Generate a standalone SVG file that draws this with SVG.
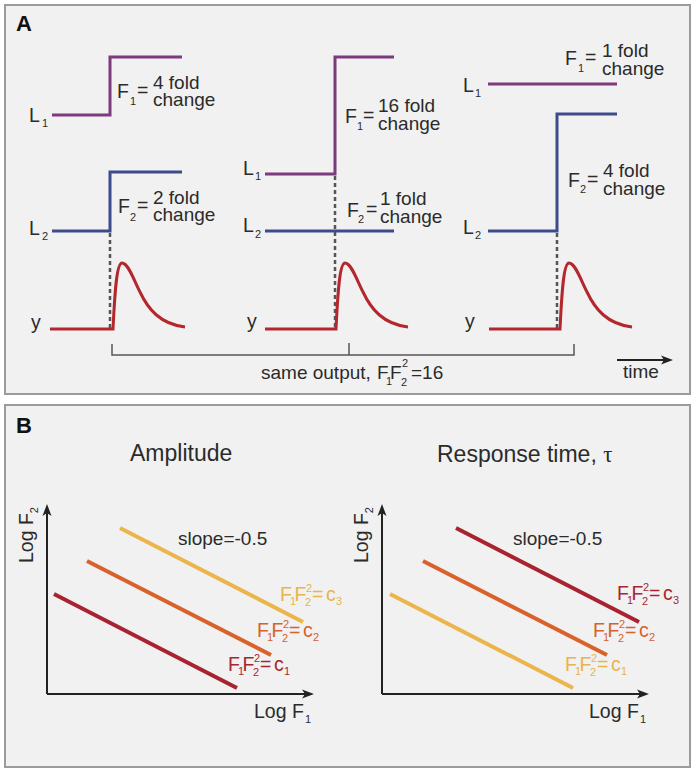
<svg xmlns="http://www.w3.org/2000/svg" width="696" height="773" viewBox="0 0 696 773">
<style>
text{font-family:"Liberation Sans",Arial,Helvetica,sans-serif;fill:#2b2b2b}
.b{font-weight:bold;font-size:22px;fill:#111}
.t{font-size:19px}
.f{font-size:19.5px}
.s{font-size:11px}
.h{font-size:23px}
.panel{fill:#f1f1f1;stroke:#9b9b9b;stroke-width:2}
.l1{stroke:#7b3b7c;stroke-width:3;fill:none}
.l2{stroke:#3d4a8b;stroke-width:3;fill:none}
.yc{stroke:#b3272d;stroke-width:3;fill:none}
.dash{stroke:#555;stroke-width:2.5;stroke-dasharray:4 3;fill:none}
.ax{stroke:#222;stroke-width:2;fill:none}
.ah{fill:#222}
.br{stroke:#555;stroke-width:1.5;fill:none}
.cl{stroke-width:4;fill:none}
.red{stroke:#a8232f}
.org{stroke:#d8622a}
.yel{stroke:#ebb54b}
.tr{fill:#a8262f}
.to{fill:#d5622a}
.ty{fill:#e8b44c}
</style>
<rect width="696" height="773" fill="#fff"/>
<g id="panelA">
<rect class="panel" x="5" y="5" width="685" height="389"/>
<text class="b" x="16" y="31">A</text>
</g>
<g id="panelB">
<rect class="panel" x="5" y="405" width="685" height="362"/>
<text class="b" x="16" y="433">B</text>
</g>

<g id="colA1">
<path class="l1" d="M52,115 H110 V57 H182"/>
<text class="f" x="29" y="122">L</text><text class="s" x="42" y="127">1</text>
<text class="f" x="117" y="98">F</text><text class="s" x="130" y="105">1</text><text class="f" x="137" y="97">=</text>
<text class="t" x="153" y="89">4 fold</text><text class="t" x="153" y="106">change</text>
<path class="l2" d="M52,231 H110 V172 H182"/>
<text class="f" x="29" y="235">L</text><text class="s" x="42" y="240">2</text>
<text class="f" x="118" y="213">F</text><text class="s" x="130" y="221">2</text><text class="f" x="137" y="212">=</text>
<text class="t" x="153" y="204">2 fold</text><text class="t" x="153" y="221">change</text>
<path class="dash" d="M110,233 V328"/>
<path class="yc" d="M50,329 H113 C114.5,300 116,263 122,263 C128,263 133,278 140,292 C148,309 160,324 185,327"/>
<text class="f" x="31" y="329">y</text>
</g>

<g id="colA2">
<path class="l1" d="M265,174 H335 V57 H394"/>
<text class="f" x="243" y="175">L</text><text class="s" x="255" y="180">1</text>
<text class="f" x="345" y="123">F</text><text class="s" x="357" y="130">1</text><text class="f" x="363" y="122">=</text>
<text class="t" x="378" y="112">16 fold</text><text class="t" x="378" y="130">change</text>
<path class="l2" d="M265,231 H394"/>
<text class="f" x="243" y="232">L</text><text class="s" x="255" y="238">2</text>
<text class="f" x="347" y="217">F</text><text class="s" x="358" y="223">2</text><text class="f" x="366" y="216">=</text>
<text class="t" x="380" y="205">1 fold</text><text class="t" x="380" y="223">change</text>
<path class="dash" d="M335,176 V328"/>
<path class="yc" d="M265,329 H336 C337.5,300 339,263 345,263 C351,263 356,278 363,292 C371,309 383,324 408,327"/>
<text class="f" x="247" y="328">y</text>
</g>

<g id="colA3">
<path class="l1" d="M488,84 H617"/>
<text class="f" x="463" y="92">L</text><text class="s" x="475" y="97">1</text>
<text class="f" x="565" y="65">F</text><text class="s" x="578" y="72">1</text><text class="f" x="585" y="64">=</text>
<text class="t" x="602" y="57">1 fold</text><text class="t" x="602" y="75">change</text>
<path class="l2" d="M488,231 H557 V114 H617"/>
<text class="f" x="463" y="234">L</text><text class="s" x="475" y="239">2</text>
<text class="f" x="568" y="187">F</text><text class="s" x="580" y="193">2</text><text class="f" x="587" y="186">=</text>
<text class="t" x="603" y="177">4 fold</text><text class="t" x="603" y="195">change</text>
<path class="dash" d="M557,233 V328"/>
<path class="yc" d="M489,329 H560 C561.5,300 563,263 569,263 C575,263 580,278 587,292 C595,309 607,324 632,327"/>
<text class="f" x="465" y="328">y</text>
</g>

<g id="outputBracket">
<path class="br" d="M112,344 V355 H574 V344 M349,355 V343"/>
<text class="t" x="261" y="379">same output,</text>
<text class="t" x="377" y="379">F</text><text class="s" x="386" y="385">1</text>
<text class="t" x="390" y="379">F</text><text class="s" x="401" y="386">2</text><text class="s" x="402" y="367">2</text>
<text class="t" x="411" y="379">=16</text>
</g>

<g id="timeArrow">
<path class="ax" d="M617,360 H664"/>
<polygon class="ah" points="673,360 661,355.5 664,360 661,364.5"/>
<text class="t" x="623" y="378">time</text>
</g>

<g id="plotAmplitude">
<text class="h" x="130" y="461">Amplitude</text>
<path class="ax" d="M47,694 V512 M47,694 H306"/>
<polygon class="ah" points="47,504 42.5,516 47,513 51.5,516"/>
<polygon class="ah" points="314,694 302,689.5 305,694 302,698.5"/>
<text class="f" transform="translate(33,563) rotate(-90)">Log F<tspan class="s" dy="5">2</tspan></text>
<text class="f" x="254" y="718">Log F</text><text class="s" x="305" y="723">1</text>
<text class="t" x="178" y="545">slope=-0.5</text>
<path class="cl yel" d="M120,528 L303,622"/>
<path class="cl org" d="M87,561 L271,655"/>
<path class="cl red" d="M54,594 L237,688"/>
<text class="f ty"><tspan x="280" y="601">F</tspan><tspan class="s" x="290" y="605">1</tspan><tspan x="294.5" y="601">F</tspan><tspan class="s" x="305" y="606">2</tspan><tspan class="s" x="306" y="592">2</tspan><tspan x="312" y="601">=</tspan><tspan x="326" y="601">c</tspan><tspan class="s" x="336" y="605">3</tspan></text>
<text class="f to"><tspan x="257" y="637">F</tspan><tspan class="s" x="267" y="641">1</tspan><tspan x="271.5" y="637">F</tspan><tspan class="s" x="282" y="642">2</tspan><tspan class="s" x="283" y="628">2</tspan><tspan x="289" y="637">=</tspan><tspan x="303" y="637">c</tspan><tspan class="s" x="313" y="641">2</tspan></text>
<text class="f tr"><tspan x="228" y="671">F</tspan><tspan class="s" x="238" y="675">1</tspan><tspan x="242.5" y="671">F</tspan><tspan class="s" x="253" y="676">2</tspan><tspan class="s" x="254" y="662">2</tspan><tspan x="260" y="671">=</tspan><tspan x="274" y="671">c</tspan><tspan class="s" x="284" y="675">1</tspan></text>
</g>

<g id="plotResponseTime">
<text class="h" x="437" y="462">Response time, <tspan style="font-family:'Liberation Serif','Times New Roman',serif">τ</tspan></text>
<path class="ax" d="M382,694 V512 M382,694 H641"/>
<polygon class="ah" points="382,504 377.5,516 382,513 386.5,516"/>
<polygon class="ah" points="649,694 637,689.5 640,694 637,698.5"/>
<text class="f" transform="translate(368,563) rotate(-90)">Log F<tspan class="s" dy="5">2</tspan></text>
<text class="f" x="589" y="718">Log F</text><text class="s" x="640" y="723">1</text>
<text class="t" x="513" y="545">slope=-0.5</text>
<path class="cl red" d="M456,528 L639,622"/>
<path class="cl org" d="M423,561 L607,655"/>
<path class="cl yel" d="M390,594 L573,688"/>
<text class="f tr"><tspan x="617" y="600">F</tspan><tspan class="s" x="627" y="604">1</tspan><tspan x="631.5" y="600">F</tspan><tspan class="s" x="642" y="605">2</tspan><tspan class="s" x="643" y="591">2</tspan><tspan x="649" y="600">=</tspan><tspan x="663" y="600">c</tspan><tspan class="s" x="673" y="604">3</tspan></text>
<text class="f to"><tspan x="593" y="637">F</tspan><tspan class="s" x="603" y="641">1</tspan><tspan x="607.5" y="637">F</tspan><tspan class="s" x="618" y="642">2</tspan><tspan class="s" x="619" y="628">2</tspan><tspan x="625" y="637">=</tspan><tspan x="639" y="637">c</tspan><tspan class="s" x="649" y="641">2</tspan></text>
<text class="f ty"><tspan x="565" y="671">F</tspan><tspan class="s" x="575" y="675">1</tspan><tspan x="579.5" y="671">F</tspan><tspan class="s" x="590" y="676">2</tspan><tspan class="s" x="591" y="662">2</tspan><tspan x="597" y="671">=</tspan><tspan x="611" y="671">c</tspan><tspan class="s" x="621" y="675">1</tspan></text>
</g>
</svg>
